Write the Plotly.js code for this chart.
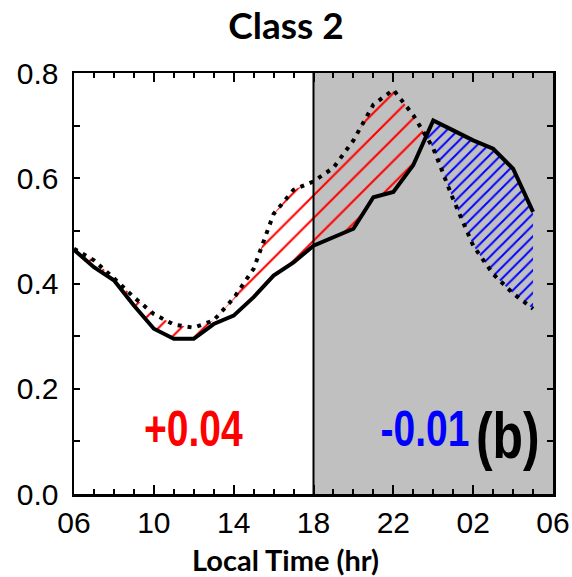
<!DOCTYPE html>
<html>
<head>
<meta charset="utf-8">
<script src="https://cdn.plot.ly/plotly-3.0.1.min.js"></script>
<style>html,body{margin:0;padding:0;background:#fff;}#chart{width:572px;height:577px;}</style>
</head>
<body>
<div id="chart"></div>
<script>
// Hours of the day (06 LT to 05 LT next day, as continuous hours)
const hours = [6,7,8,9,10,11,12,13,14,15,16,17,18,19,20,21,22,23,24,25,26,27,28,29];
// Solid line series
const solidVals = [0.464,0.431,0.406,0.358,0.314,0.295,0.295,0.323,0.339,0.374,0.415,0.440,
                   0.472,0.488,0.504,0.564,0.574,0.625,0.710,0.691,0.672,0.656,0.618,0.536];
// Dotted line series
const dottedVals = [0.466,0.444,0.410,0.374,0.342,0.322,0.316,0.330,0.372,0.428,0.532,0.578,
                    0.594,0.620,0.672,0.740,0.768,0.720,0.657,0.560,0.472,0.418,0.381,0.352];
// Tick labels
const xTickVals = [6,10,14,18,22,26,30];
const xTickText = ["06","10","14","18","22","02","06"];
const yTickVals = [0,0.2,0.4,0.6,0.8];
const yTickText = ["0.0","0.2","0.4","0.6","0.8"];
// Annotation texts
const dayText = "+0.04";
const nightText = "-0.01";
const panelText = "(b)";
const titleText = "Class 2";
const xTitleText = "Local Time (hr)";
const nightStart = 18, nightEnd = 30;

// Split into segments where dotted > solid (red) and solid > dotted (blue)
function segments() {
  const segs = [];
  let cur = null;
  for (let i = 0; i < hours.length; i++) {
    const d = dottedVals[i] - solidVals[i];
    const sign = d >= 0 ? 1 : -1;
    if (cur && cur.sign !== sign) {
      const dPrev = dottedVals[i-1] - solidVals[i-1];
      const t = dPrev / (dPrev - d);
      const xc = hours[i-1] + t * (hours[i] - hours[i-1]);
      const yc = solidVals[i-1] + t * (solidVals[i] - solidVals[i-1]);
      cur.x.push(xc); cur.s.push(yc); cur.d.push(yc);
      segs.push(cur);
      cur = {sign: sign, x: [xc], s: [yc], d: [yc]};
    }
    if (!cur) cur = {sign: sign, x: [], s: [], d: []};
    cur.x.push(hours[i]); cur.s.push(solidVals[i]); cur.d.push(dottedVals[i]);
  }
  segs.push(cur);
  return segs;
}

const traces = [];
segments().forEach(seg => {
  const red = seg.sign > 0;
  const lower = red ? seg.s : seg.d;
  const upper = red ? seg.d : seg.s;
  traces.push({x: seg.x, y: lower, mode: 'lines', line: {width: 0}, hoverinfo: 'skip', showlegend: false});
  traces.push({x: seg.x, y: upper, mode: 'lines', line: {width: 0}, fill: 'tonexty',
    fillcolor: 'rgba(0,0,0,0)',
    fillpattern: {shape: '/', size: red ? 16 : 8, solidity: red ? 0.13 : 0.24,
                  fgcolor: red ? '#ff0000' : '#0000ff', fillmode: 'replace'},
    hoverinfo: 'skip', showlegend: false});
});
traces.push({x: hours, y: dottedVals, mode: 'lines', line: {color: '#000', width: 4, dash: '4px,6px'}, showlegend: false});
traces.push({x: hours, y: solidVals, mode: 'lines', line: {color: '#000', width: 4}, showlegend: false});

const labFont = {family: 'Liberation Sans, Arial, sans-serif', size: 30, color: '#000'};
const boldFam = 'Liberation Sans, Arial, sans-serif';

const layout = {
  width: 572, height: 577,
  margin: {l: 74, r: 19, t: 73, b: 83},
  paper_bgcolor: '#fff', plot_bgcolor: '#fff',
  showlegend: false,
  title: {text: titleText, x: 0.5, xref: 'container', xanchor: 'center',
          y: 1 - 26/577, yref: 'container', yanchor: 'middle',
          font: {family: 'Lato, Open Sans, sans-serif', size: 37, weight: 700, color: '#000'}},
  xaxis: {range: [6, 30], tickvals: xTickVals, ticktext: xTickText,
          ticks: 'inside', ticklen: 9, tickwidth: 2, tickcolor: '#000',
          showline: true, linecolor: '#000', linewidth: 2.5, mirror: 'ticks',
          showgrid: false, zeroline: false, tickfont: labFont, ticklabelstandoff: 0,
          minor: {dtick: 1, tick0: 6, ticks: 'inside', ticklen: 5, tickwidth: 2, tickcolor: '#000', showgrid: false}},
  yaxis: {range: [0, 0.8], tickvals: yTickVals, ticktext: yTickText,
          ticks: 'inside', ticklen: 6, tickwidth: 2, tickcolor: '#000',
          showline: true, linecolor: '#000', linewidth: 2.5, mirror: 'ticks',
          showgrid: false, zeroline: false, tickfont: labFont, ticklabelstandoff: 7,
          minor: {dtick: 0.1, tick0: 0, ticks: 'inside', ticklen: 6, tickwidth: 2, tickcolor: '#000', showgrid: false}},
  shapes: [
    {type: 'rect', xref: 'x', yref: 'paper', x0: nightStart, x1: nightEnd, y0: 0, y1: 1,
     fillcolor: '#c0c0c0', line: {width: 0}, layer: 'below'},
    {type: 'line', xref: 'x', yref: 'paper', x0: nightStart, x1: nightStart, y0: 0, y1: 1,
     line: {color: '#000', width: 2}, layer: 'above'}
  ],
  annotations: [
    {text: dayText, x: 12, y: 0.124, xref: 'x', yref: 'y', showarrow: false,
     font: {family: boldFam, size: 50, weight: 700, color: '#ff0000'}},
    {text: nightText, x: 23.6, y: 0.124, xref: 'x', yref: 'y', showarrow: false,
     font: {family: boldFam, size: 50, weight: 700, color: '#0000ff'}},
    {text: panelText, x: 27.75, y: 0.11, xref: 'x', yref: 'y', showarrow: false,
     font: {family: boldFam, size: 64, weight: 700, color: '#000'}},
    {text: xTitleText, x: (285 - 74) / 479, y: -(559 - 494) / 421, xref: 'paper', yref: 'paper',
     showarrow: false, xanchor: 'center', yanchor: 'middle',
     font: {family: 'Lato, Open Sans, sans-serif', size: 29, weight: 700, color: '#000'}}
  ]
};

Plotly.newPlot('chart', traces, layout, {displayModeBar: false, staticPlot: true}).then(gd => {
  // condensed look for the bold in-panel labels
  const narrow = [dayText, nightText, panelText];
  gd.querySelectorAll('g.annotation text').forEach(el => {
    if (narrow.indexOf(el.textContent) >= 0) {
      const len = el.getComputedTextLength();
      el.setAttribute('textLength', (len * 0.78).toFixed(1));
      el.setAttribute('lengthAdjust', 'spacingAndGlyphs');
    }
  });
});
</script>
</body>
</html>
